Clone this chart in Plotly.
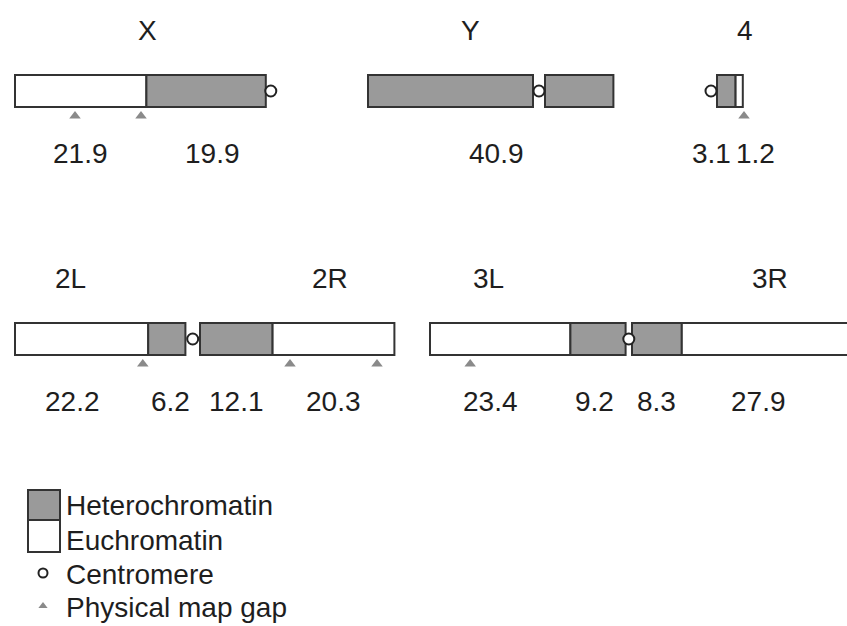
import plotly.graph_objects as go

# ---------------- data (Mb) ----------------
X_kinds = ["eu", "het"]
X_lengths = [21.9, 19.9]
X_gaps = [10.0, 21.0]

Y_left_kinds = ["het"]
Y_left_lengths = [27.5]
Y_right_kinds = ["het"]
Y_right_lengths = [11.4]
Y_total = 40.9

C4_kinds = ["het", "eu"]
C4_lengths = [3.1, 1.2]
C4_gaps = [4.5]

L2_kinds = ["eu", "het"]
L2_lengths = [22.2, 6.2]
L2_gaps = [21.3]
R2_kinds = ["het", "eu"]
R2_lengths = [12.1, 20.3]
R2_gaps = [15.0, 29.5]

L3_kinds = ["eu", "het"]
L3_lengths = [23.4, 9.2]
L3_gaps = [6.7]
R3_kinds = ["het", "eu"]
R3_lengths = [8.3, 27.9]
R3_gaps = []

arm_names = ["X", "Y", "4", "2L", "2R", "3L", "3R"]
legend_labels = ["Heterochromatin", "Euchromatin", "Centromere", "Physical map gap"]

# ---------------- layout constants ----------------
W, H = 847, 626
PX_PER_MB = 6.0
XMAX = W / PX_PER_MB


def mb(px):
    return px / PX_PER_MB


ROW1_Y, ROW2_Y = 91, 339
BOX_H = 32
FONT = "Liberation Sans, Arial, sans-serif"
NUM_SIZE = 28
NAME_SIZE = 28
LEG_SIZE = 28
TXT = "#1e1e1e"
EDGE = "#333333"
HET = "#9a9a9a"
EU = "#ffffff"
GAPC = "#8a8a8a"

fig = go.Figure()
shapes = []
annotations = []
cen_x, cen_y = [], []
gap_x, gap_y = [], []


def draw_arm(start, yc, kinds, lengths, labels=True, label_offsets=None):
    pos = start
    for i, (k, L) in enumerate(zip(kinds, lengths)):
        shapes.append(dict(type="rect", xref="x", yref="y", x0=pos, x1=pos + L,
                           y0=yc - BOX_H / 2, y1=yc + BOX_H / 2,
                           fillcolor=HET if k == "het" else EU,
                           line=dict(color=EDGE, width=2), layer="below"))
        if labels:
            lx = pos + L / 2
            if label_offsets:
                lx += label_offsets[i]
            annotations.append(dict(x=lx, y=yc + 62, xref="x", yref="y",
                                    text=f"{L:g}", showarrow=False,
                                    font=dict(size=NUM_SIZE, color=TXT, family=FONT)))
        pos += L
    return pos


def add_gaps(start, yc, gaps):
    for g in gaps:
        gap_x.append(start + g)
        gap_y.append(yc + 25)


def add_name(x, yc, text):
    annotations.append(dict(x=x, y=yc - 61, xref="x", yref="y", text=text,
                            showarrow=False, font=dict(size=NAME_SIZE, color=TXT, family=FONT)))


# X
sx = mb(15)
end = draw_arm(sx, ROW1_Y, X_kinds, X_lengths, label_offsets=[0, mb(6)])
add_gaps(sx, ROW1_Y, X_gaps)
cen_x.append(end + mb(5)); cen_y.append(ROW1_Y)
add_name(mb(147), ROW1_Y, arm_names[0])

# Y
sy = mb(368)
endl = draw_arm(sy, ROW1_Y, Y_left_kinds, Y_left_lengths, labels=False)
sy2 = mb(545)
endr = draw_arm(sy2, ROW1_Y, Y_right_kinds, Y_right_lengths, labels=False)
cen_x.append((endl + sy2) / 2); cen_y.append(ROW1_Y)
annotations.append(dict(x=(sy + endr) / 2 + mb(6), y=ROW1_Y + 62, xref="x", yref="y",
                        text=f"{Y_total:g}", showarrow=False,
                        font=dict(size=NUM_SIZE, color=TXT, family=FONT)))
add_name(mb(470), ROW1_Y, arm_names[1])

# 4
s4 = mb(717)
draw_arm(s4, ROW1_Y, C4_kinds, C4_lengths, label_offsets=[mb(-15), mb(16)])
add_gaps(s4, ROW1_Y, C4_gaps)
cen_x.append(s4 - mb(6)); cen_y.append(ROW1_Y)
add_name(mb(745), ROW1_Y, arm_names[2])

# 2
s2l = mb(15)
e2l = draw_arm(s2l, ROW2_Y, L2_kinds, L2_lengths, label_offsets=[mb(-9), mb(4)])
add_gaps(s2l, ROW2_Y, L2_gaps)
s2r = mb(200)
draw_arm(s2r, ROW2_Y, R2_kinds, R2_lengths)
add_gaps(s2r, ROW2_Y, R2_gaps)
cen_x.append((e2l + s2r) / 2); cen_y.append(ROW2_Y)
add_name(mb(70), ROW2_Y, arm_names[3])
add_name(mb(330), ROW2_Y, arm_names[4])

# 3
s3l = mb(430)
e3l = draw_arm(s3l, ROW2_Y, L3_kinds, L3_lengths, label_offsets=[mb(-10), mb(-4)])
add_gaps(s3l, ROW2_Y, L3_gaps)
s3r = mb(632)
draw_arm(s3r, ROW2_Y, R3_kinds, R3_lengths, label_offsets=[0, mb(-7)])
add_gaps(s3r, ROW2_Y, R3_gaps)
cen_x.append((e3l + s3r) / 2); cen_y.append(ROW2_Y)
add_name(mb(488), ROW2_Y, arm_names[5])
add_name(mb(770), ROW2_Y, arm_names[6])

# centromeres & gaps
fig.add_trace(go.Scatter(x=cen_x, y=cen_y, mode="markers", hoverinfo="skip",
                         marker=dict(symbol="circle", size=11, color="white",
                                     line=dict(color="#222", width=2))))
fig.add_trace(go.Scatter(x=gap_x, y=gap_y, mode="markers", hoverinfo="skip",
                         marker=dict(symbol="triangle-up", size=10, color=GAPC,
                                     line=dict(width=0))))

# legend (custom)
lx0, lx1 = mb(28), mb(60)
shapes.append(dict(type="rect", xref="x", yref="y", x0=lx0, x1=lx1, y0=490, y1=520,
                   fillcolor=HET, line=dict(color=EDGE, width=2)))
shapes.append(dict(type="rect", xref="x", yref="y", x0=lx0, x1=lx1, y0=520, y1=552,
                   fillcolor=EU, line=dict(color=EDGE, width=2)))
fig.add_trace(go.Scatter(x=[mb(43)], y=[573], mode="markers", hoverinfo="skip",
                         marker=dict(symbol="circle", size=9, color="white",
                                     line=dict(color="#222", width=2))))
fig.add_trace(go.Scatter(x=[mb(43)], y=[606], mode="markers", hoverinfo="skip",
                         marker=dict(symbol="triangle-up", size=8, color=GAPC,
                                     line=dict(width=0))))
for txt, yy in zip(legend_labels, [505, 540, 574, 607]):
    annotations.append(dict(x=mb(64), y=yy, xref="x", yref="y", text=txt,
                            xanchor="left", showarrow=False,
                            font=dict(size=LEG_SIZE, color=TXT, family=FONT)))

fig.update_layout(
    width=W, height=H, margin=dict(l=0, r=0, t=0, b=0),
    paper_bgcolor="white", plot_bgcolor="white", showlegend=False,
    shapes=shapes, annotations=annotations,
    xaxis=dict(range=[0, XMAX], visible=False, fixedrange=True),
    yaxis=dict(range=[H, 0], visible=False, fixedrange=True),
)
fig.write_html("out.html", config={"displayModeBar": False},
               post_script="document.body.style.margin='0';document.body.style.overflow='hidden';")
